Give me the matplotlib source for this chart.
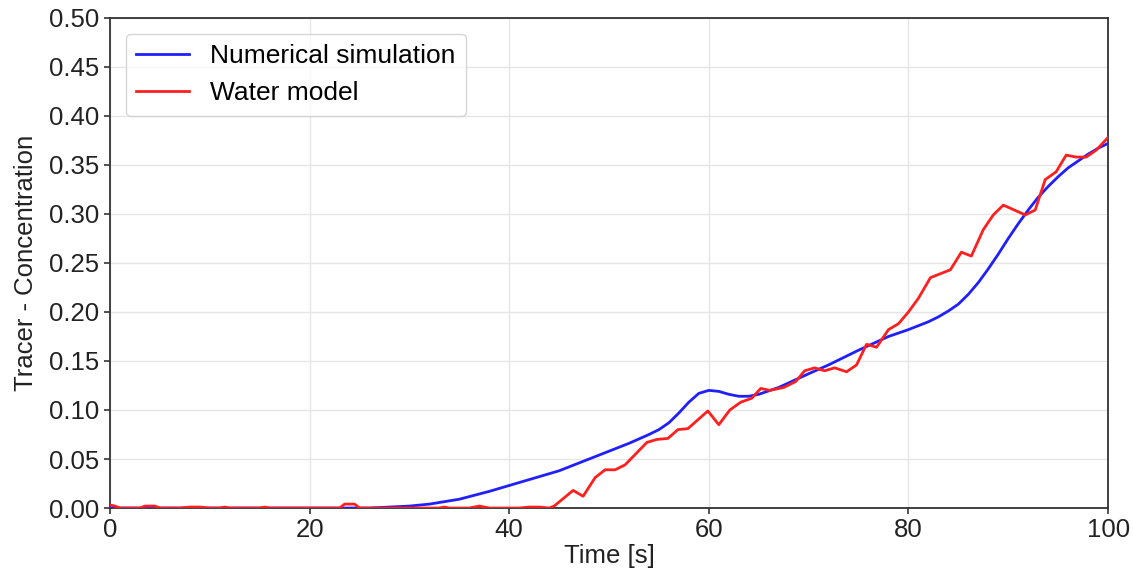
import numpy as np
import matplotlib
matplotlib.use("Agg")
import matplotlib.pyplot as plt

plt.rcParams['font.family'] = ['Liberation Sans', 'DejaVu Sans']

# --- data ---
sim_t = [0, 10, 20, 26, 28, 30, 32, 35, 38, 40, 42, 45, 48, 50, 52, 54, 55, 56, 57, 58,
         59, 60, 61, 62, 63, 64, 65, 67, 70, 72, 75, 78, 80, 81, 82, 83, 84, 85, 86, 87,
         88, 89, 90, 91, 92, 93, 94, 95, 96, 97, 98, 99, 100]
sim_c = [0.0, 0.0, 0.0, 0.0, 0.001, 0.002, 0.004, 0.009, 0.017, 0.023, 0.029, 0.038, 0.050,
         0.058, 0.066, 0.075, 0.080, 0.087, 0.097, 0.108, 0.117, 0.120, 0.119, 0.116, 0.114,
         0.114, 0.116, 0.123, 0.137, 0.146, 0.161, 0.175, 0.182, 0.186, 0.190, 0.195,
         0.201, 0.208, 0.218, 0.230, 0.244, 0.259, 0.275, 0.290, 0.304, 0.317, 0.328,
         0.338, 0.347, 0.354, 0.361, 0.367, 0.372]

water_t = [0, 0.5, 1, 2, 3, 3.5, 4.5, 5, 7, 8, 9, 10, 11, 11.5, 12, 15, 15.5, 16, 20,
           23, 23.5, 24.5, 25, 30, 33, 33.5, 34, 36, 37, 38, 41, 42, 43, 44, 44.5,
           46.4, 47.4, 48.6, 49.6, 50.6, 51.6, 53.8, 54.8, 55.9, 56.9, 57.9, 59.9,
           61.0, 62.1, 63.2, 64.3, 65.2, 66.1, 67.5, 68.7, 69.6, 70.6, 71.6, 72.6,
           73.8, 74.8, 75.8, 76.8, 78.0, 79.0, 80.0, 81.0, 82.2, 83.2, 84.2, 85.3,
           86.3, 87.5, 88.5, 89.5, 91.7, 92.7, 93.7, 94.8, 95.8, 96.8, 97.8, 98.8, 100]
water_c = [0.003, 0.002, 0.0, 0.0, 0.0, 0.002, 0.002, 0.0, 0.0, 0.001, 0.001, 0.0, 0.0,
           0.001, 0.0, 0.0, 0.001, 0.0, 0.0, 0.0, 0.004, 0.004, 0.0, 0.0, 0.0, 0.001,
           0.0, 0.0, 0.002, 0.0, 0.0, 0.001, 0.001, 0.0, 0.002,
           0.018, 0.012, 0.031, 0.039, 0.039, 0.044, 0.067, 0.070, 0.071, 0.080,
           0.081, 0.099, 0.085, 0.100, 0.108, 0.112, 0.122, 0.120, 0.123, 0.129,
           0.140, 0.143, 0.140, 0.143, 0.139, 0.146, 0.167, 0.164, 0.182, 0.188,
           0.200, 0.214, 0.235, 0.239, 0.243, 0.261, 0.257, 0.284, 0.299, 0.309,
           0.299, 0.304, 0.335, 0.343, 0.360, 0.358, 0.358, 0.365, 0.378]

yticks = np.arange(0, 0.501, 0.05)
xticks = [0, 20, 40, 60, 80, 100]

fig = plt.figure(figsize=(11.33, 5.76), dpi=100)
ax = fig.add_axes([0.0971, 0.118, 0.978 - 0.0971, 0.969 - 0.118])

ax.plot(sim_t, sim_c, color='#1f1fff', lw=2.0, label='Numerical simulation', zorder=3)
ax.plot(water_t, water_c, color='#ff1f1f', lw=2.0, label='Water model', zorder=3)

ax.set_xlim(0, 100)
ax.set_ylim(0, 0.5)
ax.set_xticks(xticks)
ax.set_yticks(yticks)
ax.set_yticklabels([f"{v:.2f}" for v in yticks])
ax.grid(True, color='#e6e6e6', lw=1.0)
ax.set_axisbelow(True)
ax.tick_params(labelsize=18.5, length=4, width=1.2, colors='#333333', labelcolor='#222222')
for s in ax.spines.values():
    s.set_color('#333333')
    s.set_linewidth(1.3)

ax.set_xlabel('Time [s]', fontsize=18.5, color='#222222', labelpad=1)
ax.set_ylabel('Tracer - Concentration', fontsize=18.5, color='#222222', labelpad=8)

leg = ax.legend(loc='upper left', fontsize=19, frameon=True, fancybox=True,
                handlelength=2.0, borderaxespad=0.6)
leg.get_frame().set_edgecolor('#cccccc')

fig.savefig('out.png', dpi=100)
